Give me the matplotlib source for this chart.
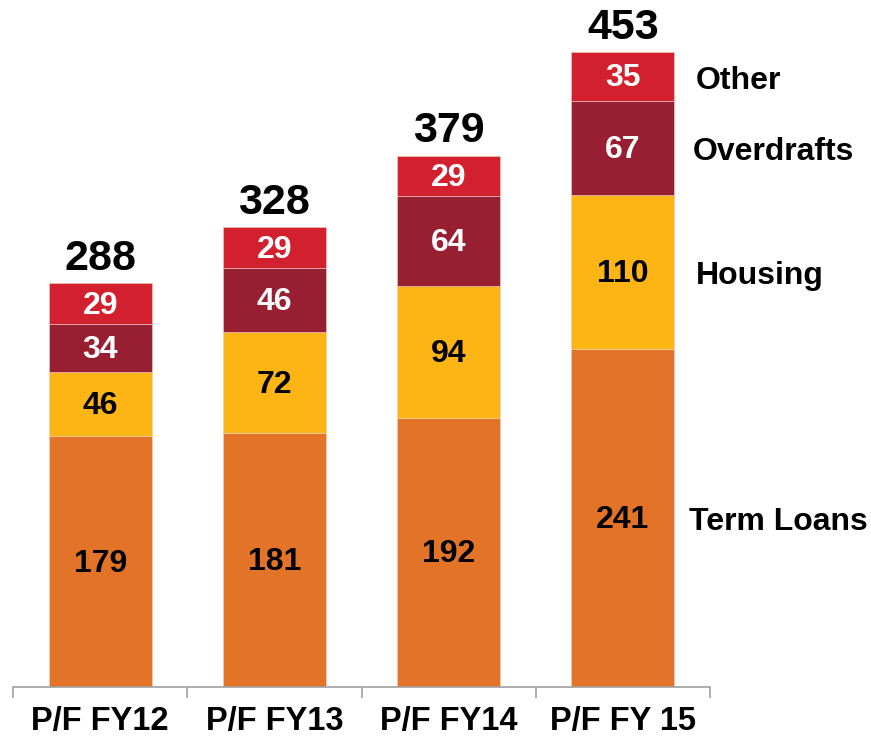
import numpy as np
import matplotlib.pyplot as plt

plt.rcParams['font.family'] = ['Liberation Sans', 'DejaVu Sans']
plt.rcParams['font.weight'] = 'bold'

# Data
years = ['P/F FY12', 'P/F FY13', 'P/F FY14', 'P/F FY 15']
term_loans = [179, 181, 192, 241]
housing = [46, 72, 94, 110]
overdrafts = [34, 46, 64, 67]
other = [29, 29, 29, 35]
totals = [288, 328, 379, 453]
series_names = ['Term Loans', 'Housing', 'Overdrafts', 'Other']

series = [term_loans, housing, overdrafts, other]
colors = ['#E37326', '#FDB515', '#981E32', '#D2202F']
text_colors = ['black', 'black', 'white', 'white']

fig = plt.figure(figsize=(8.71, 7.41), dpi=100)
ax = fig.add_axes([13/871, 54/741, 697/871, 687/741])

x = np.arange(len(years))
bottom = np.zeros(len(years))
for vals, col, tcol in zip(series, colors, text_colors):
    vals = np.array(vals)
    ax.bar(x, vals, width=0.59, bottom=bottom, color=col, edgecolor='#f0d0c0', linewidth=0.4)
    for xi, b, v in zip(x, bottom, vals):
        ax.annotate(str(v), (xi, b + v / 2), xytext=(0, -1.5), textcoords='offset points',
                    ha='center', va='center', color=tcol, fontsize=23, fontweight='bold')
    bottom = bottom + vals

# totals on top
for xi, t in zip(x, totals):
    ax.annotate(str(t), (xi, t), xytext=(0, 3), textcoords='offset points',
                ha='center', va='bottom', fontsize=31, fontweight='bold')

# series names next to last bar
last = [s[-1] for s in series]
cum = np.cumsum([0] + last)
label_x = [3.38, 3.42, 3.40, 3.42]
for name, b, v, lx in zip(series_names, cum[:-1], last, label_x):
    ax.annotate(name, (lx, b + v / 2), xytext=(0, -3), textcoords='offset points',
                ha='left', va='center', fontsize=23, fontweight='bold')

ax.set_xlim(-0.5, 3.5)
ax.set_ylim(0, 490)
ax.set_xticks(x)
ax.set_xticklabels(years, fontsize=23.5, fontweight='bold')
ax.set_xticks(np.arange(-0.5, 4, 1), minor=True)
ax.tick_params(axis='x', which='major', length=0, pad=14)
ax.tick_params(axis='x', which='minor', length=8, color='#A0A0A0', width=1.2)
ax.set_yticks([])
for s in ['top', 'right', 'left']:
    ax.spines[s].set_visible(False)
ax.spines['bottom'].set_color('#A0A0A0')
ax.spines['bottom'].set_linewidth(1.2)
ax.patch.set_alpha(0)

fig.savefig('out.png', dpi=100)
